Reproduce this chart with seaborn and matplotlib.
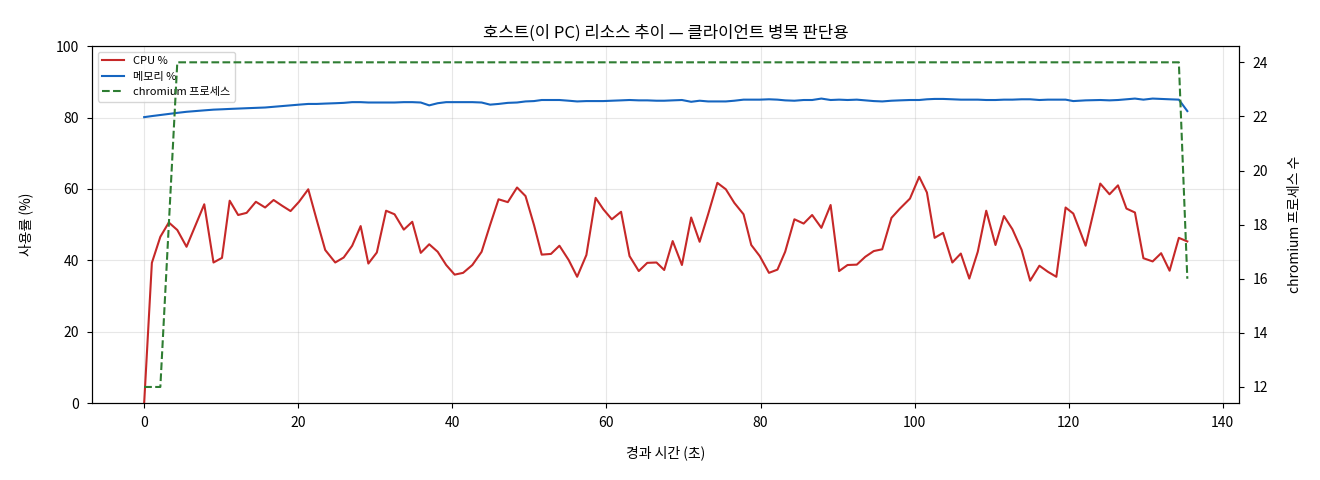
import numpy as np
import pandas as pd
import matplotlib
matplotlib.use("Agg")
import matplotlib.pyplot as plt
import seaborn as sns

# elapsed time (s) of each sample
t_sec = [0.0, 1.0, 2.1, 3.2, 4.3, 5.5, 7.8, 9.0, 10.1, 11.1, 12.2, 13.3, 14.5, 15.7, 16.8,
         17.9, 19.0, 20.1, 21.3, 22.4, 23.5, 24.8, 25.9, 27.0, 28.1, 29.1, 30.2, 31.4, 32.5,
         33.7, 34.8, 35.9, 37.0, 38.1, 39.2, 40.3, 41.4, 42.6, 43.8, 44.9, 46.0, 47.2, 48.4,
         49.5, 50.6, 51.6, 52.8, 53.9, 55.1, 56.2, 57.4, 58.6, 59.6, 60.7, 61.9, 63.0, 64.2,
         65.3, 66.5, 67.5, 68.6, 69.8, 71.0, 72.1, 73.2, 74.4, 75.5, 76.6, 77.8, 78.8, 79.9,
         81.1, 82.2, 83.2, 84.4, 85.6, 86.7, 87.9, 89.1, 90.2, 91.3, 92.5, 93.6, 94.7, 95.8,
         97.0, 98.1, 99.4, 100.6, 101.6, 102.6, 103.7, 104.9, 106.0, 107.1, 108.2, 109.3,
         110.5, 111.6, 112.7, 113.9, 115.0, 116.2, 117.3, 118.4, 119.6, 120.6, 122.2, 124.1,
         125.3, 126.4, 127.5, 128.6, 129.7, 130.9, 132.0, 133.1, 134.3, 135.4]

cpu_pct = [0.0, 39.3, 46.6, 50.6, 48.5, 43.8, 55.7, 39.4, 40.7, 56.7, 52.7, 53.3, 56.4, 54.8, 56.9,
           55.3, 53.8, 56.4, 59.9, 51.3, 42.9, 39.4, 40.8, 44.1, 49.6, 39.1, 42.2, 53.9, 52.9,
           48.6, 50.8, 42.1, 44.5, 42.4, 38.7, 36.0, 36.5, 38.7, 42.4, 49.9, 57.1, 56.3, 60.4,
           58.0, 49.9, 41.6, 41.8, 44.1, 40.1, 35.4, 41.5, 57.5, 54.3, 51.5, 53.6, 41.2, 37.0,
           39.3, 39.4, 37.3, 45.4, 38.7, 52.0, 45.2, 52.9, 61.7, 59.9, 56.1, 52.9, 44.3, 41.2,
           36.5, 37.4, 42.4, 51.5, 50.3, 52.7, 49.1, 55.5, 37.0, 38.7, 38.8, 41.0, 42.6, 43.1,
           51.9, 54.5, 57.3, 63.4, 59.0, 46.3, 47.7, 39.4, 41.9, 34.9, 42.4, 53.9,
           44.3, 52.4, 48.7, 42.9, 34.3, 38.5, 36.8, 35.4, 54.8, 53.1, 44.1, 61.5,
           58.5, 61.0, 54.5, 53.4, 40.6, 39.7, 42.0, 37.1, 46.3, 45.3]

mem_pct = [80.1, 80.4, 80.7, 81.0, 81.3, 81.6, 82.0, 82.2, 82.3, 82.4, 82.5, 82.6, 82.7, 82.8, 83.0,
           83.2, 83.4, 83.6, 83.8, 83.8, 83.9, 84.0, 84.1, 84.3, 84.3, 84.2, 84.2, 84.2, 84.2,
           84.3, 84.3, 84.2, 83.4, 84.0, 84.3, 84.3, 84.3, 84.3, 84.2, 83.6, 83.8, 84.1, 84.2,
           84.5, 84.6, 84.9, 84.9, 84.9, 84.7, 84.5, 84.6, 84.6, 84.6, 84.7, 84.8, 84.9, 84.8,
           84.8, 84.7, 84.7, 84.8, 84.9, 84.4, 84.7, 84.5, 84.5, 84.5, 84.7, 85.0, 85.0, 85.0,
           85.1, 85.0, 84.8, 84.7, 84.9, 84.9, 85.3, 84.9, 85.0, 84.9, 85.0, 84.8, 84.6, 84.5,
           84.7, 84.8, 84.9, 84.9, 85.1, 85.2, 85.2, 85.1, 85.0, 85.0, 85.0, 84.9,
           84.9, 85.0, 85.0, 85.1, 85.1, 84.9, 85.0, 85.0, 85.0, 84.6, 84.8, 84.9,
           84.8, 84.9, 85.1, 85.3, 85.0, 85.3, 85.2, 85.1, 85.0, 81.8]

chromium_cnt = [12, 12, 12, 18] + [24] * 114 + [16]

df = pd.DataFrame({"t": t_sec, "cpu": cpu_pct, "mem": mem_pct, "chromium": chromium_cnt})

plt.rcParams['font.family'] = ['Noto Sans CJK KR', 'DejaVu Sans']
plt.rcParams['axes.unicode_minus'] = False

fig, ax = plt.subplots(figsize=(13.2, 4.8), dpi=100)
fig.subplots_adjust(left=0.0697, right=0.939, top=0.904, bottom=0.16)

sns.lineplot(data=df, x="t", y="cpu", ax=ax, color="#c62828", linewidth=1.5, label="CPU %")
sns.lineplot(data=df, x="t", y="mem", ax=ax, color="#1565c0", linewidth=1.5, label="메모리 %")
ax.set_ylim(0, 100)
ax.set_xlabel("경과 시간 (초)", labelpad=11)
ax.set_ylabel("사용률 (%)", labelpad=16)
ax.set_title("호스트(이 PC) 리소스 추이 — 클라이언트 병목 판단용")
ax.tick_params(axis="both", pad=6)
ax.grid(True, alpha=0.3)

ax2 = ax.twinx()
sns.lineplot(data=df, x="t", y="chromium", ax=ax2, color="#2e7d32", linewidth=1.5,
             linestyle="--", label="chromium 프로세스", legend=False)
ax2.set_ylabel("chromium 프로세스 수", labelpad=14)
ax2.tick_params(axis="y", pad=6)

h1, l1 = ax.get_legend_handles_labels()
h2, l2 = ax2.get_legend_handles_labels()
ax.legend(h1 + h2, l1 + l2, loc="upper left", fontsize=8)

fig.savefig("out.png", dpi=100)
